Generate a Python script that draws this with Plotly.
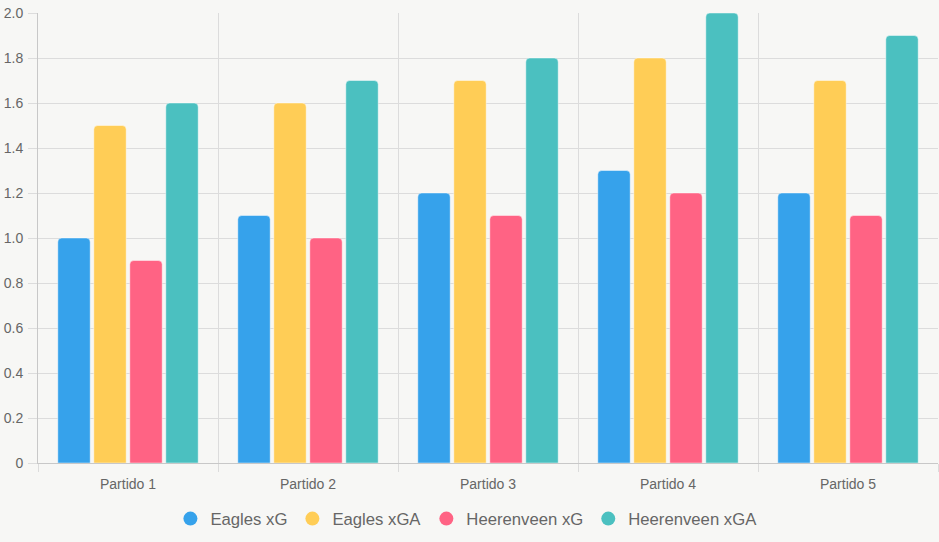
import plotly.graph_objects as go

categories = ["Partido 1", "Partido 2", "Partido 3", "Partido 4", "Partido 5"]
eagles_xg = [1.0, 1.1, 1.2, 1.3, 1.2]
eagles_xga = [1.5, 1.6, 1.7, 1.8, 1.7]
heer_xg = [0.9, 1.0, 1.1, 1.2, 1.1]
heer_xga = [1.6, 1.7, 1.8, 2.0, 1.9]
series_names = ["Eagles xG", "Eagles xGA", "Heerenveen xG", "Heerenveen xGA"]
colors = ["#36A2EB", "#FFCD56", "#FF6384", "#4BC0C0"]
y_ticks = [0, 0.2, 0.4, 0.6, 0.8, 1.0, 1.2, 1.4, 1.6, 1.8, 2.0]
y_tick_text = ["0", "0.2", "0.4", "0.6", "0.8", "1.0", "1.2", "1.4", "1.6", "1.8", "2.0"]

bg = "#f7f7f5"
grid = "#dcdcdc"
font = "Liberation Sans, Arial, sans-serif"

fig = go.Figure()
for name, vals, col in zip(series_names, [eagles_xg, eagles_xga, heer_xg, heer_xga], colors):
    fig.add_trace(go.Bar(
        x=categories, y=vals, name=name, showlegend=False,
        marker=dict(color=col, line=dict(color="rgba(255,255,255,0.45)", width=1)),
    ))
for name, col in zip(series_names, colors):
    fig.add_trace(go.Scatter(
        x=[None], y=[None], mode="markers", name=name,
        marker=dict(symbol="circle", size=14, color=col),
    ))

fig.update_layout(
    width=939, height=542,
    margin=dict(l=38, r=1, t=13, b=79),
    paper_bgcolor=bg, plot_bgcolor=bg,
    barmode="group", bargap=0.2, bargroupgap=0.1, barcornerradius=4,
    font=dict(family=font, color="#666666", size=14),
    legend=dict(orientation="h", x=0.476, xanchor="center", y=-0.085, yanchor="top",
                font=dict(size=16.7, color="#666666"), itemwidth=30,
                bgcolor="rgba(0,0,0,0)"),
)
fig.update_xaxes(
    type="category", tickson="boundaries", showgrid=True, gridcolor=grid, gridwidth=1,
    ticks="outside", ticklen=8, tickcolor=grid, showline=True, linecolor="#c8c8c8",
    tickfont=dict(size=14, color="#666666"), ticklabelstandoff=8, fixedrange=True,
)
fig.update_yaxes(
    range=[0, 2.0], tickvals=y_ticks, ticktext=y_tick_text, showgrid=True,
    gridcolor=grid, gridwidth=1, ticks="outside", ticklen=9, tickcolor=grid,
    showline=True, linecolor="#c8c8c8", zeroline=False,
    tickfont=dict(size=14, color="#666666"), ticklabelstandoff=2, fixedrange=True,
)

fig.write_html("out.html")
